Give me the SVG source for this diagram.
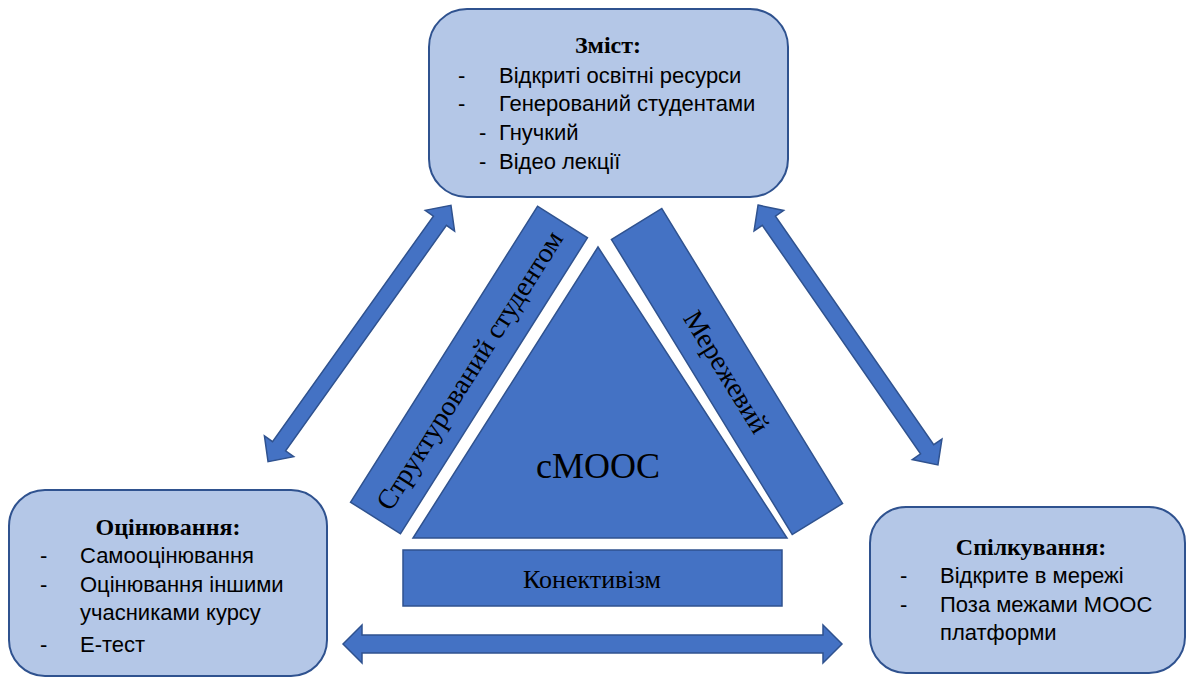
<svg xmlns="http://www.w3.org/2000/svg" width="1186" height="677" viewBox="0 0 1186 677">
  <style>
    .box { fill: #B4C7E7; stroke: #2F528F; stroke-width: 2; }
    .shape { fill: #4472C4; stroke: #2F528F; stroke-width: 1.5; }
    .head { font-family: "Liberation Serif", "Times New Roman", serif; font-weight: bold; font-size: 24px; fill: #000; text-anchor: middle; }
    .item { font-family: "Liberation Sans", Arial, sans-serif; font-size: 22px; fill: #000; }
    .label { font-family: "Liberation Serif", "Times New Roman", serif; font-size: 26px; fill: #000; text-anchor: middle; }
    .side { font-size: 28px; }
  </style>

  <!-- Content -->
  <g id="content">
    <rect class="box" x="429" y="9" width="359" height="188" rx="38"/>
    <text class="head" x="608" y="53">Зміст:</text>
    <text class="item" x="458" y="83">-</text>
    <text class="item" x="499" y="83">Відкриті освітні ресурси</text>
    <text class="item" x="458" y="111">-</text>
    <text class="item" x="499" y="111">Генерований студентами</text>
    <text class="item" x="479" y="140">-</text>
    <text class="item" x="499" y="140">Гнучкий</text>
    <text class="item" x="479" y="169">-</text>
    <text class="item" x="499" y="169">Відео лекції</text>
  </g>

  <!-- Assessment -->
  <g id="assessment">
    <rect class="box" x="9" y="490" width="318" height="186" rx="36"/>
    <text class="head" x="168" y="535">Оцінювання:</text>
    <text class="item" x="40" y="563">-</text>
    <text class="item" x="80" y="563">Самооцінювання</text>
    <text class="item" x="40" y="592">-</text>
    <text class="item" x="80" y="592">Оцінювання іншими</text>
    <text class="item" x="80" y="620">учасниками курсу</text>
    <text class="item" x="40" y="652">-</text>
    <text class="item" x="80" y="652">Е-тест</text>
  </g>

  <!-- Communication -->
  <g id="communication">
    <rect class="box" x="870" y="507" width="315" height="166" rx="36"/>
    <text class="head" x="1031" y="555">Спілкування:</text>
    <text class="item" x="900" y="583">-</text>
    <text class="item" x="940" y="583">Відкрите в мережі</text>
    <text class="item" x="900" y="612">-</text>
    <text class="item" x="940" y="612">Поза межами МООС</text>
    <text class="item" x="940" y="640">платформи</text>
  </g>

  <!-- Core triangle -->
  <g id="cmooc">
    <polygon class="shape" points="598,247 787,538 413,538"/>
    <text class="label" x="598" y="478" style="font-size:36px">cMOOC</text>
  </g>

  <!-- Side bars -->
  <g id="student-structured" transform="translate(469,370) rotate(-57.7)">
    <rect class="shape" x="-175" y="-29.5" width="350" height="59"/>
    <text class="label side" x="0" y="10">Структурований студентом</text>
  </g>
  <g id="networked" transform="translate(727,371.5) rotate(58.5)">
    <rect class="shape" x="-173" y="-29.5" width="346" height="59"/>
    <text class="label side" x="0" y="10">Мережевий</text>
  </g>
  <g id="connectivism">
    <rect class="shape" x="403" y="550" width="379" height="56"/>
    <text class="label" x="592" y="588">Конективізм</text>
  </g>

  <!-- Double arrows between the three areas -->
  <g id="connectors">
    <polygon class="shape" transform="translate(592.5,644)" points="-249.5,0 -230.5,-19 -230.5,-9 230.5,-9 230.5,-19 249.5,0 230.5,19 230.5,9 -230.5,9 -230.5,19"/>
    <polygon class="shape" transform="translate(359.5,333.5) rotate(-54.5)" points="-157.5,0 -138.5,-18 -138.5,-8 138.5,-8 138.5,-18 157.5,0 138.5,18 138.5,8 -138.5,8 -138.5,18"/>
    <polygon class="shape" transform="translate(848,335) rotate(55.3)" points="-158,0 -139,-18 -139,-8 139,-8 139,-18 158,0 139,18 139,8 -139,8 -139,18"/>
  </g>
</svg>
